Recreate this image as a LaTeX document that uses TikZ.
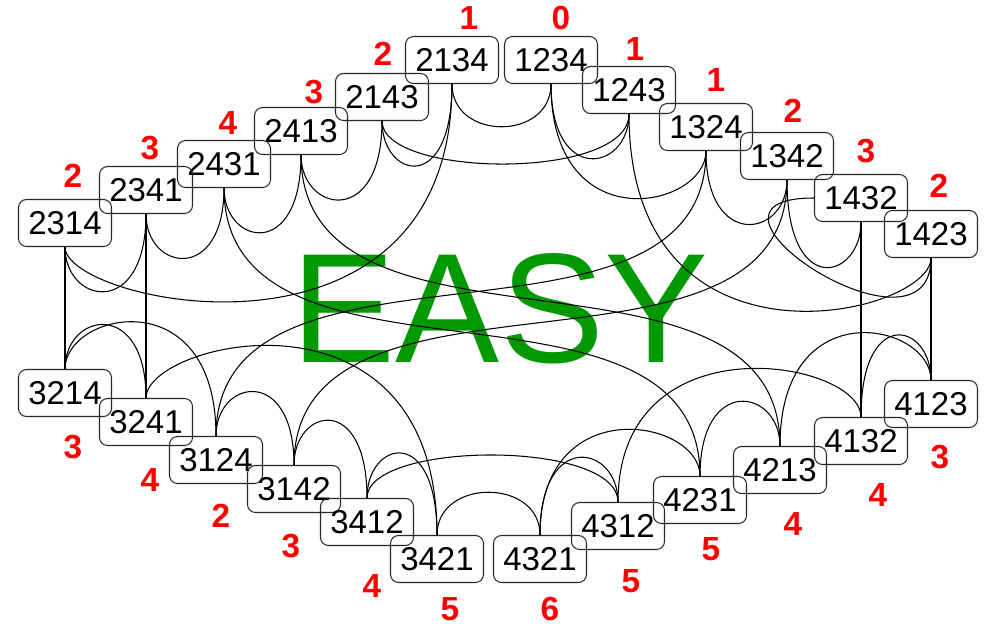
\documentclass[tikz,border=0pt]{standalone}
\usepackage{xcolor}
\usepackage{fontspec}
\setmainfont{Liberation Sans}
\usepackage{tikz}
\definecolor{easygreen}{RGB}{0,153,0}
\definecolor{invred}{RGB}{255,0,0}
\definecolor{boxgray}{RGB}{40,40,40}
\tikzset{
  perm/.style={rectangle, draw=boxgray, rounded corners=0.16cm,
    line width=0.6pt, minimum width=1.86cm, minimum height=0.94cm,
    inner sep=0pt, font=\fontsize{18.8}{20}\selectfont},
  inv/.style={text=invred, inner sep=0pt,
    font=\fontsize{19}{20}\selectfont\bfseries},
  link/.style={draw, line width=0.6pt, color=black}
}

\begin{document}
\begin{tikzpicture}[x=0.02cm, y=-0.02cm]
  \useasboundingbox (0,0) rectangle (988,626);

  % Title
  \node[text=easygreen, inner sep=0pt, font=\fontsize{88.8}{90}\selectfont] (easy) at (500,309) {EASY};

  % Permutations, upper half
  \node[perm] (n2134) at (452,60) {2134};
  \node[perm] (n1234) at (551,60) {1234};
  \node[perm] (n1243) at (629,90) {1243};
  \node[perm] (n2143) at (382,97) {2143};
  \node[perm] (n1324) at (706,127) {1324};
  \node[perm] (n2413) at (301,131) {2413};
  \node[perm] (n1342) at (787,156) {1342};
  \node[perm] (n2431) at (224,164) {2431};
  \node[perm] (n1432) at (861,198) {1432};
  \node[perm] (n2341) at (146,190) {2341};
  \node[perm] (n1423) at (931,234) {1423};
  \node[perm] (n2314) at (65,223) {2314};

  % Permutations, lower half
  \node[perm] (n3214) at (65,393) {3214};
  \node[perm] (n4123) at (931,404) {4123};
  \node[perm] (n3241) at (146,422) {3241};
  \node[perm] (n4132) at (861,441) {4132};
  \node[perm] (n3124) at (216,460) {3124};
  \node[perm] (n4213) at (780,470) {4213};
  \node[perm] (n3142) at (294,489) {3142};
  \node[perm] (n4231) at (700,500) {4231};
  \node[perm] (n3412) at (367,522) {3412};
  \node[perm] (n4312) at (618,526) {4312};
  \node[perm] (n3421) at (437,559) {3421};
  \node[perm] (n4321) at (540,559) {4321};

  % Inversion counts
  \node[inv] (l2134) at (469,18) {1};
  \node[inv] (l1234) at (561,18) {0};
  \node[inv] (l1243) at (635,49) {1};
  \node[inv] (l2143) at (383,54) {2};
  \node[inv] (l1324) at (716,80) {1};
  \node[inv] (l2413) at (314,92) {3};
  \node[inv] (l1342) at (793,111) {2};
  \node[inv] (l2431) at (228,123) {4};
  \node[inv] (l1432) at (866,151) {3};
  \node[inv] (l2341) at (150,148) {3};
  \node[inv] (l1423) at (939,186) {2};
  \node[inv] (l2314) at (73,176) {2};
  \node[inv] (l3214) at (73,447) {3};
  \node[inv] (l3241) at (150,480) {4};
  \node[inv] (l3124) at (221,516) {2};
  \node[inv] (l3142) at (291,546) {3};
  \node[inv] (l3412) at (372,586) {4};
  \node[inv] (l3421) at (450,609) {5};
  \node[inv] (l4321) at (550,609) {6};
  \node[inv] (l4312) at (631,581) {5};
  \node[inv] (l4231) at (711,549) {5};
  \node[inv] (l4213) at (793,524) {4};
  \node[inv] (l4132) at (878,495) {4};
  \node[inv] (l4123) at (940,457) {3};

  % Upper arcs
  \draw[link] (n2134.south) .. controls +(0,57) and +(0,57) .. (n1234.south);
  \draw[link] (n1234.south) .. controls +(0,158) and +(0,57) .. (n1324.south);
  \draw[link] (n1234.south) .. controls +(0,102) and +(0,57) .. (n1243.south);
  \draw[link] (n1243.south) .. controls +(0,67) and +(0,57) .. (n2143.south);
  \draw[link] (n1243.south) .. controls +(0,273) and +(0,57) .. (n1423.south);
  \draw[link] (n1324.south) .. controls +(0,100) and +(0,57) .. (n1342.south);
  \draw[link] (n1342.south) .. controls +(0,120) and +(0,57) .. (n1432.south);
  \draw[link] (n1432.west) .. controls +(-150,0) and +(0,115) .. (n1423.south);
  \draw[link] (n2134.south) .. controls +(0,302) and +(0,57) .. (n2314.south);
  \draw[link] (n2134.south) .. controls +(0,112) and +(0,57) .. (n2143.south);
  \draw[link] (n2143.south) .. controls +(0,108) and +(0,57) .. (n2413.south);
  \draw[link] (n2341.south) .. controls +(0,106) and +(0,57) .. (n2314.south);
  \draw[link] (n2431.south) .. controls +(0,96) and +(0,57) .. (n2341.south);
  \draw[link] (n2413.south) .. controls +(0,106) and +(0,57) .. (n2431.south);

  % Lower arcs
  \draw[link] (n3214.north) .. controls +(0,-57) and +(0,-157) .. (n3124.north);
  \draw[link] (n3124.north) .. controls +(0,-57) and +(0,-100) .. (n3142.north);
  \draw[link] (n3142.north) .. controls +(0,-57) and +(0,-106) .. (n3412.north);
  \draw[link] (n3214.north) .. controls +(0,-57) and +(0,-100) .. (n3241.north);
  \draw[link] (n3241.north) .. controls +(0,-57) and +(0,-262) .. (n3421.north);
  \draw[link] (n3412.north) .. controls +(0,-57) and +(0,-63) .. (n4312.north);
  \draw[link] (n3412.north) .. controls +(0,-57) and +(0,-112) .. (n3421.north);
  \draw[link] (n3421.north) .. controls +(0,-57) and +(0,-57) .. (n4321.north);
  \draw[link] (n4123.north) .. controls +(0,-57) and +(0,-156) .. (n4213.north);
  \draw[link] (n4123.north) .. controls +(0,-57) and +(0,-112) .. (n4132.north);
  \draw[link] (n4132.north) .. controls +(0,-57) and +(0,-184) .. (n4312.north);
  \draw[link] (n4213.north) .. controls +(0,-57) and +(0,-102) .. (n4231.north);
  \draw[link] (n4231.north) .. controls +(0,-57) and +(0,-145) .. (n4321.north);
  \draw[link] (n4312.north) .. controls +(0,-57) and +(0,-106) .. (n4321.north);

  % Straight sides
  \draw[link] (n2314) -- (n3214);
  \draw[link] (n2341) -- (n3241);
  \draw[link] (n1432) -- (n4132);
  \draw[link] (n1423) -- (n4123);

  % Crossing links
  \draw[link] (n1324.south) .. controls +(0,225) and +(0,-225) .. (n3124.north);
  \draw[link] (n1342.south) .. controls +(0,225) and +(0,-225) .. (n3142.north);
  \draw[link] (n2413.south) .. controls +(0,225) and +(0,-225) .. (n4213.north);
  \draw[link] (n2431.south) .. controls +(0,225) and +(0,-225) .. (n4231.north);
\end{tikzpicture}
\end{document}
